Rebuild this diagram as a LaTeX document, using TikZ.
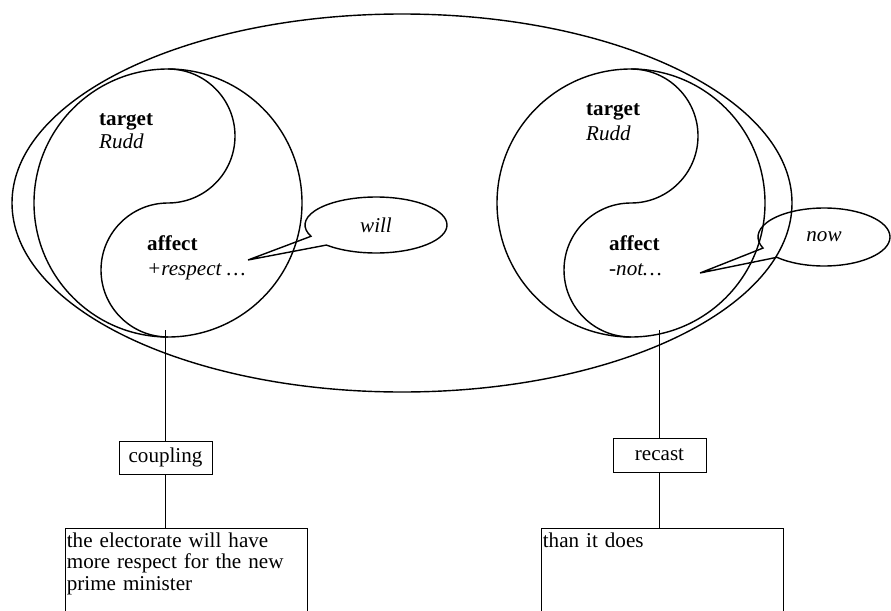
\documentclass[tikz,border=0pt]{standalone}
\usepackage{fontspec}
\setmainfont{Liberation Serif}
\usetikzlibrary{shapes.geometric, shapes.callouts}

\begin{document}
\begin{tikzpicture}[font=\fontsize{12}{14.5}\selectfont,
    relbox/.style={draw, line width=0.5pt, minimum width=1.86cm, minimum height=0.66cm, inner sep=0pt},
    wordbox/.style={draw, line width=0.4pt, anchor=north west, text width=4.78cm, align=left,
        inner xsep=0.03cm, inner ysep=0.09cm, text depth=2cm, font=\fontsize{12}{12.2}\selectfont},
    bubble/.style={ellipse callout, draw, line width=0.8pt, callout pointer arc=22, inner sep=0pt}]
    \useasboundingbox (0,0) rectangle (17.82,12.2);
    \clip (0,0) rectangle (17.82,12.2);

    % outer ellipse round both halves
    \draw [line width=0.8pt] (8.04,8.14) ellipse (7.8 and 3.78);

    % two yin-yang circles
    \node (yyL) [circle, draw, line width=0.8pt, minimum size=5.36cm, inner sep=0pt, outer sep=0pt] at (3.36,8.14) {};
    \draw [line width=0.8pt] (yyL.north) arc (90:-90:1.34) arc (90:270:1.34);
    \node (yyR) [circle, draw, line width=0.8pt, minimum size=5.36cm, inner sep=0pt, outer sep=0pt] at (12.62,8.14) {};
    \draw [line width=0.8pt] (yyR.north) arc (90:-90:1.34) arc (90:270:1.34);

    \node at (1.86,9.70) [anchor=base west] {\textbf{target}};
    \node at (1.86,9.24) [anchor=base west] {\textit{Rudd}};
    \node at (2.82,7.20) [anchor=base west] {\textbf{affect}};
    \node at (2.82,6.70) [anchor=base west] {\textit{+respect …}};

    \node at (11.60,9.90) [anchor=base west] {\textbf{target}};
    \node at (11.60,9.40) [anchor=base west] {\textit{Rudd}};
    \node at (12.06,7.20) [anchor=base west] {\textbf{affect}};
    \node at (12.06,6.70) [anchor=base west] {\textit{-not…}};

    % speech bubbles
    \coordinate (willTip) at (4.96,7.0);
    \coordinate (nowTip) at (14.0,6.74);
    \node (willB) [bubble, minimum width=2.84cm, minimum height=1.12cm, callout absolute pointer={(willTip)}] at (7.52,7.70) {\textit{will}\hspace{0.68cm}};
    \node (nowB) [bubble, minimum width=2.64cm, minimum height=1.16cm, callout absolute pointer={(nowTip)}] at (16.48,7.46) {\textit{now}\hspace{0.36cm}};

    % relations and wordings below
    \node (cpl) [relbox] at (3.31,3.05) {coupling};
    \node (rcst) [relbox, minimum height=0.68cm] at (13.19,3.10) {recast};
    \node (txtL) [wordbox] at (1.30,1.64) {the electorate will have\\more respect for the new\\prime minister};
    \node (txtR) [wordbox] at (10.82,1.64) {than it does};

    \draw [line width=0.5pt] (cpl.north) -- ([yshift=1.4mm]cpl.north |- yyL.south);
    \draw [line width=0.5pt] (cpl.south) -- (cpl.south |- txtL.north);
    \draw [line width=0.5pt] (rcst.north) -- ([yshift=1.4mm]rcst.north |- yyR.south);
    \draw [line width=0.5pt] (rcst.south) -- (rcst.south |- txtR.north);
\end{tikzpicture}
\end{document}
